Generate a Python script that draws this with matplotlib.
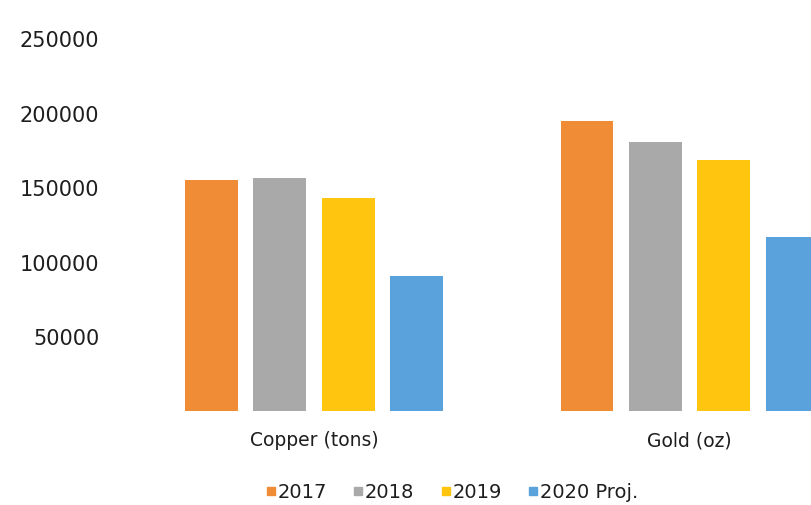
import matplotlib
matplotlib.use("Agg")
import matplotlib.pyplot as plt
from matplotlib.lines import Line2D
import numpy as np

categories = ["Copper (tons)", "Gold (oz)"]
series_names = ["2017", "2018", "2019", "2020 Proj."]
values_2017 = [155000, 194500]
values_2018 = [156500, 180500]
values_2019 = [143000, 168500]
values_2020 = [90500, 116500]
y_ticks = [50000, 100000, 150000, 200000, 250000]

series_values = [values_2017, values_2018, values_2019, values_2020]
colors = ["#F08C36", "#A9A9A9", "#FFC50F", "#5AA2DC"]

W, H = 811, 506
fig = plt.figure(figsize=(W / 100, H / 100), dpi=100)
fig.patch.set_facecolor("white")

left_px, right_px, bottom_px, top_px = 120, 811, 412, 17
ax = fig.add_axes([left_px / W, (H - bottom_px) / H,
                   (right_px - left_px) / W, (bottom_px - top_px) / H])

x = np.arange(len(categories))
pitch = 0.182
width = 0.141
for i, (vals, c) in enumerate(zip(series_values, colors)):
    ax.bar(x + (i - 1.5) * pitch, vals, width=width, color=c, label=series_names[i])

ax.set_xlim(-0.517, 1.3236)
ax.set_ylim(0, 265000)
ax.set_yticks(y_ticks)
ax.set_yticklabels([str(v) for v in y_ticks], fontsize=15, color="#1E1E1E")
ax.set_xticks(x)
ax.set_xticklabels(categories, fontsize=13.5, color="#1E1E1E")
ax.tick_params(axis="y", length=0, pad=15)
ax.tick_params(axis="x", length=0, pad=14)
for s in ax.spines.values():
    s.set_visible(False)

handles = [Line2D([0], [0], marker="s", linestyle="none", markersize=6,
                  markerfacecolor=c, markeredgecolor=c) for c in colors]
fig.legend(handles, series_names, loc="center", bbox_to_anchor=(0.558, 0.026),
           ncol=4, frameon=False, fontsize=14, handlelength=0.4,
           handletextpad=0.15, columnspacing=1.4, labelcolor="#1E1E1E")

fig.savefig("out.png", dpi=100, facecolor="white")
